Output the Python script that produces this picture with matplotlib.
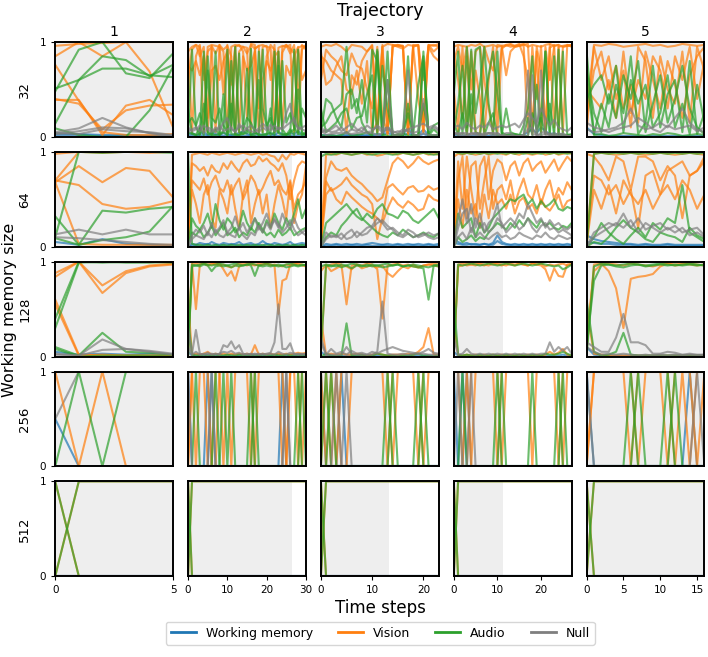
import matplotlib
matplotlib.use("Agg")
import matplotlib.pyplot as plt
from matplotlib.lines import Line2D

# memory sizes (rows) and trajectories (columns)
sizes = [32, 64, 128, 256, 512]
trajectories = ["1", "2", "3", "4", "5"]
steps = [5, 30, 23, 27, 16]          # last time step of each trajectory
shade_end = [5, 26.4, 13.2, 11.2, 16]  # shaded part of each trajectory
xticks = [[0, 5], [0, 10, 20, 30], [0, 10, 20], [0, 10, 20], [0, 5, 10, 15]]

labels = ["Working memory", "Vision", "Audio", "Null"]
keys = ["W", "V", "A", "N"]
colors = ["tab:blue", "tab:orange", "tab:green", "tab:gray"]

# attention values in percent, one list per head
# ---- memory size 32 ----
m32_t1 = dict(
    V=[[96, 98, 99, 100, 100, 100], [85, 100, 85, 100, 69, 10], [76, 38, 5, 2, 2, 3],
       [39, 39, 2, 33, 39, 23], [40, 35, 8, 28, 33, 34]],
    A=[[51, 60, 85, 81, 64, 76], [48, 92, 100, 67, 62, 88], [14, 60, 72, 72, 65, 63],
       [9, 2, 0, 0, 28, 74]],
    N=[[5, 9, 20, 10, 4, 1], [3, 6, 10, 9, 4, 1], [4, 3, 8, 6, 5, 2]],
    W=[[4, 3, 2, 2, 1, 1], [2, 2, 1, 1, 1, 1]],
)
m32_t2 = dict(
    V=[[90, 95, 97, 95, 5, 95, 97, 96, 95, 90, 5, 95, 97, 96, 95, 94, 5, 93, 96, 97, 95, 94, 5, 94, 96, 95, 97, 5, 94, 96, 95],
       [60, 92, 97, 85, 95, 20, 96, 88, 97, 45, 97, 10, 95, 97, 90, 20, 98, 97, 30, 95, 96, 60, 97, 15, 95, 97, 88, 97, 40, 97, 92],
       [75, 70, 80, 65, 85, 5, 70, 75, 60, 80, 90, 55, 95, 5, 85, 70, 75, 90, 5, 60, 80, 70, 85, 90, 10, 75, 65, 85, 95, 60, 70],
       [95, 5, 85, 97, 60, 90, 95, 5, 97, 92, 96, 85, 3, 90, 95, 88, 97, 93, 96, 5, 85, 97, 92, 5, 89, 97, 93, 88, 5, 92, 97]],
    A=[[5, 3, 2, 3, 90, 3, 2, 2, 3, 6, 92, 3, 2, 2, 3, 4, 93, 5, 2, 2, 3, 4, 90, 4, 2, 3, 2, 92, 4, 2, 3],
       [30, 4, 2, 10, 2, 70, 2, 8, 2, 45, 1, 80, 3, 2, 6, 72, 1, 2, 60, 3, 2, 30, 2, 75, 3, 2, 8, 2, 50, 2, 5],
       [15, 20, 12, 25, 8, 85, 20, 15, 30, 12, 5, 35, 3, 88, 8, 20, 15, 5, 90, 30, 12, 20, 8, 5, 80, 15, 25, 10, 3, 30, 20],
       [2, 92, 10, 2, 35, 5, 3, 90, 2, 5, 2, 10, 95, 5, 3, 8, 2, 5, 2, 92, 10, 2, 5, 90, 8, 2, 5, 8, 92, 5, 2]],
    N=[[5, 8, 10, 6, 12, 8, 5, 10, 7, 15, 20, 8, 6, 10, 12, 8, 6, 5, 9, 14, 10, 7, 12, 8, 10, 25, 35, 15, 10, 8, 6],
       [10, 6, 8, 12, 4, 10, 8, 5, 12, 6, 8, 10, 5, 14, 6, 9, 12, 8, 5, 10, 7, 13, 6, 10, 8, 12, 15, 20, 8, 10, 12]],
    W=[[3, 4, 2, 3, 5, 2, 4, 3, 2, 4, 3, 2, 3, 4, 6, 3, 2, 4, 3, 2, 3, 4, 2, 5, 3, 2, 4, 3, 6, 3, 2],
       [1, 2, 1, 1, 2, 1, 1, 2, 1, 1, 2, 1, 1, 2, 1, 1, 2, 1, 1, 2, 1, 1, 2, 1, 1, 2, 1, 1, 2, 1, 1]],
)
m32_t3 = dict(
    V=[[95, 97, 96, 98, 95, 90, 97, 96, 95, 90, 96, 5, 97, 3, 95, 97, 96, 2, 95, 97, 5, 96, 97, 95],
       [60, 92, 85, 80, 70, 65, 88, 75, 72, 50, 30, 95, 20, 5, 96, 97, 95, 5, 97, 96, 15, 97, 90, 95],
       [90, 55, 60, 75, 85, 50, 45, 70, 35, 80, 5, 15, 95, 2, 97, 96, 96, 3, 96, 97, 60, 95, 85, 80],
       [85, 80, 70, 65, 60, 5, 65, 55, 80, 90, 97, 5, 95, 98, 97, 95, 93, 97, 96, 40, 5, 97, 96, 98]],
    A=[[2, 1, 2, 1, 2, 5, 1, 2, 3, 5, 2, 90, 1, 60, 2, 1, 2, 35, 2, 1, 90, 2, 1, 2],
       [30, 5, 10, 15, 25, 30, 8, 20, 22, 45, 65, 3, 75, 30, 2, 1, 2, 25, 1, 2, 80, 1, 8, 3],
       [5, 40, 35, 20, 10, 45, 50, 25, 60, 15, 92, 80, 2, 90, 1, 2, 2, 85, 2, 1, 35, 3, 12, 15],
       [10, 15, 25, 30, 35, 95, 30, 40, 15, 5, 1, 92, 3, 1, 1, 3, 4, 1, 2, 55, 85, 1, 2, 1]],
    N=[[8, 2, 3, 4, 4, 4, 3, 4, 5, 4, 4, 2, 4, 60, 2, 2, 3, 70, 2, 2, 4, 2, 2, 2],
       [10, 5, 8, 12, 6, 10, 14, 8, 6, 12, 8, 10, 5, 8, 4, 6, 5, 8, 10, 12, 14, 10, 12, 8],
       [4, 8, 5, 6, 10, 4, 8, 6, 10, 5, 6, 12, 8, 10, 6, 4, 8, 6, 4, 6, 40, 8, 10, 6]],
    W=[[2, 1, 2, 1, 2, 1, 2, 1, 2, 1, 2, 3, 2, 12, 2, 1, 2, 10, 1, 2, 8, 2, 1, 2],
       [1, 2, 1, 1, 1, 2, 1, 2, 1, 2, 1, 1, 1, 5, 1, 1, 1, 4, 1, 1, 3, 1, 1, 1]],
)
m32_t4 = dict(
    V=[[95, 97, 96, 95, 97, 96, 98, 95, 96, 97, 95, 96, 97, 98, 96, 97, 98, 95, 97, 96, 95, 97, 98, 96, 97, 95, 96, 97],
       [50, 5, 95, 3, 90, 5, 2, 95, 80, 70, 97, 96, 65, 90, 95, 96, 97, 5, 95, 40, 96, 5, 94, 97, 3, 95, 96, 97],
       [90, 60, 20, 85, 5, 70, 40, 3, 60, 95, 5, 93, 97, 95, 96, 98, 85, 60, 3, 95, 70, 3, 97, 10, 95, 96, 97, 95],
       [80, 95, 70, 95, 50, 90, 95, 60, 30, 5, 50, 95, 96, 97, 95, 96, 97, 98, 5, 90, 5, 95, 60, 96, 97, 5, 97, 96]],
    A=[[45, 90, 3, 95, 5, 92, 95, 2, 15, 25, 1, 2, 30, 5, 3, 2, 1, 20, 2, 55, 2, 90, 3, 1, 92, 2, 2, 1],
       [5, 35, 75, 10, 92, 25, 55, 95, 35, 3, 90, 5, 2, 3, 2, 1, 12, 30, 85, 3, 25, 90, 1, 85, 3, 2, 2, 3],
       [15, 2, 25, 3, 45, 5, 2, 35, 65, 90, 45, 3, 2, 2, 3, 2, 1, 1, 25, 8, 20, 3, 35, 2, 1, 90, 2, 2]],
    N=[[4, 3, 1, 1, 4, 2, 2, 2, 4, 4, 1, 1, 4, 4, 1, 1, 1, 70, 2, 3, 1, 4, 2, 1, 4, 2, 1, 1],
       [4, 4, 4, 4, 2, 4, 4, 1, 4, 1, 4, 1, 1, 1, 1, 1, 2, 8, 10, 1, 4, 6, 1, 4, 1, 1, 1, 1],
       [4, 2, 4, 1, 4, 4, 2, 4, 4, 4, 4, 1, 1, 1, 1, 1, 1, 1, 65, 1, 70, 1, 4, 1, 1, 4, 1, 1],
       [10, 12, 8, 15, 10, 8, 12, 10, 15, 8, 10, 12, 10, 12, 14, 10, 18, 25, 20, 15, 30, 20, 12, 18, 10, 8, 6, 10]],
    W=[[2, 2, 1, 2, 1, 2, 1, 2, 1, 2, 1, 1, 1, 1, 1, 1, 2, 5, 8, 4, 10, 6, 3, 4, 2, 1, 1, 1]],
)
m32_t5 = dict(
    V=[[5, 97, 96, 98, 97, 95, 96, 97, 98, 96, 97, 95, 96, 98, 97, 96, 97],
       [30, 95, 60, 85, 40, 70, 10, 95, 80, 20, 85, 50, 35, 90, 15, 95, 70],
       [20, 70, 90, 50, 75, 30, 55, 15, 90, 60, 30, 80, 55, 20, 65, 85, 95],
       [50, 40, 30, 60, 20, 90, 25, 60, 40, 85, 70, 30, 85, 60, 95, 40, 80]],
    A=[[90, 2, 3, 1, 2, 4, 3, 2, 1, 3, 2, 4, 3, 1, 2, 3, 2],
       [60, 3, 35, 10, 55, 25, 85, 3, 15, 75, 10, 45, 60, 5, 80, 3, 25],
       [70, 25, 5, 45, 20, 65, 40, 80, 5, 35, 65, 15, 40, 75, 30, 10, 3],
       [40, 55, 65, 35, 75, 5, 60, 35, 55, 10, 25, 65, 10, 35, 3, 55, 15]],
    N=[[8, 5, 6, 8, 10, 15, 30, 12, 8, 10, 15, 10, 20, 30, 15, 8, 5],
       [15, 10, 8, 5, 8, 10, 12, 20, 15, 8, 5, 12, 8, 10, 12, 6, 10]],
    W=[[10, 3, 2, 1, 1, 1, 1, 1, 1, 1, 1, 1, 1, 1, 1, 1, 1]],
)

# ---- memory size 64 ----
m64_t1 = dict(
    V=[[98, 100, 100, 100, 100, 100], [70, 100, 99, 100, 99, 100], [68, 85, 68, 83, 80, 52],
       [70, 65, 45, 40, 42, 48], [68, 3, 2, 2, 2, 2]],
    A=[[10, 100, 99, 100, 100, 99], [32, 2, 38, 36, 40, 42], [9, 2, 7, 10, 16, 43]],
    N=[[13, 18, 13, 18, 13, 13], [10, 9, 7, 5, 3, 2]],
    W=[[5, 2, 8, 3, 2, 1]],
)
m64_t2 = dict(
    V=[[3, 97, 98, 99, 98, 97, 99, 98, 97, 98, 99, 98, 97, 98, 99, 98, 97, 98, 99, 97, 98, 96, 95, 90, 97, 92, 98, 97, 99, 98, 97],
       [2, 88, 85, 80, 84, 75, 86, 80, 78, 88, 82, 90, 84, 79, 88, 92, 85, 87, 95, 90, 93, 88, 85, 80, 88, 75, 50, 70, 85, 90, 88],
       [5, 70, 65, 60, 72, 55, 68, 75, 62, 58, 70, 55, 65, 72, 50, 60, 75, 68, 55, 62, 72, 80, 65, 70, 60, 55, 68, 40, 55, 60, 70],
       [2, 60, 45, 25, 55, 65, 30, 20, 60, 50, 35, 65, 40, 20, 55, 70, 25, 45, 60, 35, 55, 20, 45, 65, 50, 30, 70, 25, 45, 55, 85]],
    A=[[98, 3, 2, 2, 1, 2, 1, 2, 1, 2, 1, 2, 1, 2, 1, 2, 1, 2, 1, 2, 1, 2, 1, 2, 1, 2, 1, 2, 1, 2, 1],
       [0, 30, 22, 18, 25, 35, 20, 45, 28, 18, 30, 25, 15, 20, 38, 25, 18, 30, 22, 15, 28, 20, 35, 25, 18, 30, 22, 35, 50, 30, 40],
       [0, 15, 12, 18, 10, 15, 22, 12, 18, 25, 12, 15, 20, 10, 15, 12, 20, 15, 25, 18, 12, 15, 10, 18, 12, 15, 20, 12, 15, 18, 20]],
    N=[[0, 12, 18, 15, 22, 12, 25, 15, 20, 28, 15, 20, 32, 18, 25, 15, 22, 30, 18, 25, 35, 22, 28, 20, 35, 25, 18, 30, 20, 15, 18],
       [0, 8, 12, 10, 8, 15, 10, 18, 12, 10, 15, 12, 10, 20, 12, 8, 15, 12, 22, 15, 25, 18, 30, 22, 15, 20, 28, 18, 12, 15, 12]],
    W=[[0, 3, 2, 4, 3, 2, 5, 3, 2, 4, 3, 2, 3, 5, 2, 3, 4, 2, 3, 6, 3, 2, 4, 3, 2, 3, 5, 2, 3, 4, 3],
       [0, 1, 2, 1, 2, 3, 1, 2, 1, 2, 1, 3, 2, 1, 2, 1, 2, 1, 2, 1, 3, 2, 1, 2, 1, 2, 1, 2, 1, 2, 1]],
)
m64_t3 = dict(
    V=[[5, 97, 98, 97, 99, 98, 97, 98, 99, 97, 98, 96, 97, 99, 98, 97, 99, 98, 97, 98, 99, 97, 98, 97],
       [5, 73, 90, 82, 80, 83, 75, 70, 66, 60, 55, 48, 52, 70, 88, 94, 90, 83, 88, 95, 90, 87, 90, 92],
       [3, 69, 59, 62, 66, 73, 65, 60, 55, 52, 45, 8, 30, 62, 66, 60, 55, 62, 64, 58, 59, 64, 60, 62],
       [2, 55, 62, 50, 45, 58, 52, 47, 42, 38, 35, 30, 25, 40, 52, 45, 41, 48, 44, 38, 40, 55, 50, 48]],
    A=[[95, 98, 97, 98, 99, 98, 97, 98, 99, 98, 97, 98, 99, 98, 97, 98, 99, 98, 97, 98, 99, 98, 97, 98],
       [0, 25, 30, 35, 40, 45, 38, 32, 28, 35, 30, 40, 45, 35, 33, 30, 38, 35, 28, 25, 30, 35, 40, 30],
       [0, 10, 15, 12, 22, 28, 35, 40, 30, 25, 20, 15, 12, 10, 15, 12, 18, 14, 10, 12, 15, 12, 10, 14]],
    N=[[0, 15, 10, 12, 8, 14, 18, 10, 15, 20, 22, 30, 25, 18, 20, 15, 12, 18, 15, 10, 12, 15, 12, 14],
       [0, 8, 12, 10, 14, 8, 10, 16, 12, 14, 20, 25, 28, 22, 18, 12, 10, 14, 10, 12, 14, 10, 8, 10]],
    W=[[0, 3, 2, 3, 2, 3, 2, 3, 2, 3, 4, 3, 2, 3, 2, 3, 2, 3, 2, 3, 2, 3, 2, 3],
       [0, 1, 1, 2, 1, 1, 2, 1, 1, 2, 1, 1, 2, 1, 1, 2, 1, 1, 2, 1, 1, 2, 1, 1]],
)
m64_t4 = dict(
    V=[[95, 98, 97, 99, 98, 97, 98, 99, 97, 98, 99, 98, 97, 99, 98, 97, 99, 98, 97, 98, 99, 97, 98, 99, 97, 98, 99, 98],
       [5, 90, 40, 95, 60, 30, 85, 95, 50, 80, 92, 88, 70, 85, 90, 75, 88, 93, 80, 86, 90, 78, 85, 92, 80, 88, 95, 90],
       [3, 70, 95, 30, 85, 90, 40, 70, 95, 40, 60, 65, 50, 70, 45, 60, 72, 55, 50, 65, 45, 60, 70, 50, 62, 55, 68, 60],
       [2, 50, 20, 60, 35, 45, 20, 55, 30, 60, 45, 50, 40, 55, 35, 48, 52, 40, 45, 35, 50, 42, 38, 45, 55, 40, 48, 50]],
    A=[[100, 99, 98, 99, 98, 99, 98, 99, 98, 99, 98, 99, 98, 99, 98, 99, 98, 99, 98, 99, 98, 99, 98, 99, 98, 99, 98, 99],
       [0, 35, 20, 25, 30, 10, 25, 15, 20, 30, 35, 40, 45, 50, 48, 52, 55, 45, 50, 40, 48, 42, 45, 50, 40, 38, 42, 40],
       [0, 10, 5, 8, 12, 6, 10, 8, 15, 20, 25, 22, 18, 25, 20, 28, 22, 30, 25, 20, 28, 22, 25, 20, 18, 22, 20, 25]],
    N=[[0, 30, 50, 25, 45, 20, 35, 15, 25, 30, 45, 20, 25, 30, 25, 35, 30, 45, 35, 25, 30, 20, 28, 22, 25, 20, 18, 22],
       [0, 20, 35, 40, 15, 30, 20, 25, 15, 20, 30, 25, 15, 20, 25, 18, 22, 30, 20, 15, 22, 25, 18, 20, 15, 18, 15, 12],
       [0, 10, 15, 8, 20, 10, 15, 10, 8, 12, 15, 10, 12, 8, 10, 15, 12, 10, 8, 12, 10, 15, 10, 8, 12, 10, 8, 10]],
    W=[[8, 5, 3, 4, 2, 3, 2, 3, 2, 4, 12, 5, 3, 2, 3, 2, 3, 2, 3, 2, 3, 2, 3, 2, 3, 2, 3, 2],
       [4, 3, 2, 2, 3, 2, 2, 3, 2, 2, 6, 3, 2, 2, 1, 2, 1, 2, 1, 2, 1, 2, 1, 2, 1, 2, 1, 2]],
)
m64_t5 = dict(
    V=[[2, 98, 99, 98, 97, 98, 99, 98, 97, 98, 99, 98, 97, 98, 99, 98, 97],
       [98, 95, 85, 70, 95, 90, 60, 95, 95, 90, 70, 85, 75, 30, 75, 80, 90],
       [5, 75, 70, 55, 65, 45, 60, 20, 75, 80, 55, 80, 85, 90, 75, 80, 95],
       [3, 60, 40, 65, 35, 70, 55, 45, 60, 40, 55, 65, 50, 70, 60, 40, 55]],
    A=[[0, 98, 99, 98, 99, 98, 99, 98, 99, 98, 99, 98, 99, 98, 99, 98, 99],
       [0, 10, 25, 15, 8, 3, 12, 20, 10, 25, 18, 30, 25, 65, 15, 10, 5],
       [0, 5, 3, 10, 20, 28, 20, 15, 8, 5, 15, 12, 10, 5, 20, 12, 8]],
    N=[[0, 15, 20, 25, 22, 35, 20, 30, 18, 22, 25, 18, 22, 15, 18, 20, 12],
       [0, 10, 15, 20, 25, 20, 28, 15, 25, 20, 15, 20, 15, 20, 12, 15, 10]],
    W=[[12, 8, 6, 5, 4, 3, 3, 2, 3, 2, 2, 3, 2, 2, 2, 2, 2],
       [5, 4, 3, 3, 2, 2, 2, 1, 2, 1, 1, 2, 1, 1, 1, 1, 1]],
)

# ---- memory size 128 ----
m128_t1 = dict(
    V=[[88, 100, 75, 90, 96, 98], [84, 100, 67, 88, 95, 97], [60, 2, 1, 1, 1, 1], [55, 1, 2, 1, 1, 1]],
    A=[[40, 100, 99, 100, 100, 99], [30, 99, 100, 99, 99, 100], [10, 1, 25, 5, 4, 2], [8, 0, 1, 1, 1, 0]],
    N=[[2, 1, 18, 8, 6, 3], [3, 1, 7, 8, 5, 2]],
    W=[[5, 2, 3, 2, 3, 1]],
)
m128_t2 = dict(
    V=[[0, 97, 98, 97, 98, 97, 98, 97, 98, 92, 85, 90, 80, 95, 97, 98, 97, 96, 98, 97, 98, 97, 96, 45, 80, 82, 97, 98, 97, 96, 95],
       [10, 98, 50, 97, 98, 96, 97, 98, 96, 97, 95, 94, 96, 98, 97, 96, 98, 97, 96, 97, 98, 96, 97, 96, 95, 97, 96, 97, 98, 97, 96],
       [60, 2, 3, 2, 3, 5, 2, 3, 2, 3, 2, 3, 2, 3, 2, 3, 2, 12, 2, 3, 2, 3, 2, 3, 2, 3, 2, 3, 4, 3, 4]],
    A=[[0, 95, 96, 95, 97, 96, 90, 95, 96, 95, 96, 94, 96, 95, 96, 97, 96, 85, 96, 95, 96, 95, 96, 95, 96, 94, 95, 96, 95, 96, 97],
       [5, 97, 96, 97, 98, 97, 96, 97, 98, 97, 96, 97, 98, 97, 96, 97, 98, 97, 96, 97, 98, 97, 96, 97, 96, 97, 98, 97, 96, 97, 96],
       [40, 2, 1, 1, 2, 1, 1, 2, 1, 1, 2, 1, 1, 2, 1, 1, 2, 1, 1, 2, 1, 1, 2, 1, 1, 2, 1, 1, 2, 1, 1]],
    N=[[30, 3, 28, 3, 2, 4, 2, 3, 2, 12, 10, 16, 8, 12, 3, 2, 3, 2, 3, 2, 3, 4, 15, 55, 8, 8, 14, 2, 3, 2, 3],
       [10, 2, 5, 2, 3, 2, 3, 2, 3, 5, 4, 6, 3, 4, 2, 3, 2, 3, 2, 3, 2, 3, 2, 5, 3, 2, 4, 3, 2, 3, 2]],
    W=[[5, 1, 2, 1, 1, 2, 1, 1, 2, 1, 1, 2, 1, 1, 2, 1, 1, 2, 1, 1, 2, 1, 1, 2, 1, 1, 2, 1, 1, 2, 1]],
)
m128_t3 = dict(
    V=[[5, 95, 97, 98, 97, 55, 96, 97, 96, 98, 97, 92, 40, 96, 97, 98, 96, 97, 95, 94, 96, 97, 98, 97],
       [90, 97, 90, 93, 96, 95, 92, 97, 93, 95, 96, 94, 96, 88, 84, 90, 95, 93, 97, 94, 96, 97, 96, 95],
       [40, 2, 3, 2, 3, 2, 2, 3, 2, 1, 2, 3, 2, 1, 2, 2, 2, 3, 2, 5, 10, 30, 2, 2]],
    A=[[0, 3, 1, 0, 1, 35, 1, 1, 2, 0, 1, 3, 2, 1, 1, 0, 1, 1, 2, 3, 1, 1, 0, 1],
       [5, 96, 95, 97, 94, 96, 93, 96, 95, 97, 95, 96, 94, 95, 96, 97, 95, 96, 95, 94, 93, 60, 96, 95],
       [95, 97, 96, 95, 97, 96, 98, 97, 96, 95, 97, 96, 97, 98, 96, 97, 95, 96, 97, 96, 95, 94, 96, 97]],
    N=[[20, 2, 2, 2, 2, 10, 3, 2, 2, 2, 2, 5, 58, 3, 2, 2, 3, 2, 3, 3, 3, 2, 2, 2],
       [15, 2, 8, 3, 5, 2, 6, 3, 4, 2, 5, 3, 6, 8, 10, 8, 6, 5, 4, 3, 5, 8, 4, 3]],
    W=[[5, 1, 1, 1, 1, 1, 1, 1, 1, 1, 1, 1, 1, 1, 1, 1, 1, 1, 1, 1, 1, 1, 1, 1]],
)
m128_t4 = dict(
    V=[[5, 97, 98, 96, 97, 98, 97, 96, 98, 97, 98, 97, 96, 98, 97, 98, 97, 96, 98, 97, 96, 92, 80, 93, 85, 84, 97, 98],
       [3, 95, 96, 98, 97, 96, 98, 97, 96, 98, 97, 96, 98, 97, 96, 98, 97, 96, 98, 97, 98, 95, 97, 96, 97, 98, 96, 97],
       [40, 2, 1, 2, 1, 2, 1, 2, 1, 2, 1, 2, 1, 2, 1, 2, 1, 2, 1, 2, 1, 2, 5, 2, 4, 8, 2, 1]],
    A=[[0, 97, 96, 97, 98, 97, 96, 97, 98, 97, 96, 97, 98, 97, 96, 97, 98, 97, 96, 97, 98, 97, 96, 95, 96, 92, 94, 97],
       [60, 2, 1, 2, 1, 1, 2, 1, 1, 2, 1, 1, 2, 1, 1, 2, 1, 1, 2, 1, 1, 3, 2, 2, 3, 5, 3, 1]],
    N=[[20, 2, 3, 8, 3, 2, 3, 2, 3, 2, 3, 2, 3, 2, 3, 2, 3, 2, 3, 2, 3, 3, 15, 5, 10, 6, 10, 3]],
    W=[[5, 1, 1, 1, 1, 1, 1, 1, 1, 1, 1, 1, 1, 1, 1, 1, 1, 1, 1, 1, 1, 1, 1, 1, 1, 2, 1, 1]],
)
m128_t5 = dict(
    V=[[5, 97, 98, 90, 72, 30, 82, 84, 85, 87, 95, 98, 97, 98, 97, 96, 97],
       [20, 90, 97, 98, 97, 96, 98, 97, 96, 95, 97, 98, 96, 97, 98, 97, 96],
       [50, 3, 2, 1, 1, 1, 1, 1, 1, 1, 1, 1, 1, 1, 1, 1, 1]],
    A=[[0, 95, 98, 97, 96, 97, 98, 97, 96, 97, 98, 97, 96, 97, 98, 97, 96],
       [10, 80, 96, 97, 95, 94, 96, 97, 95, 96, 97, 96, 97, 96, 97, 96, 97],
       [60, 5, 1, 2, 5, 25, 2, 1, 1, 1, 1, 1, 1, 1, 1, 1, 1]],
    N=[[15, 10, 5, 5, 20, 45, 15, 15, 12, 3, 3, 5, 4, 2, 3, 2, 2],
       [10, 5, 2, 3, 2, 3, 2, 1, 2, 1, 2, 1, 2, 1, 2, 1, 2]],
    W=[[10, 2, 1, 1, 1, 1, 1, 1, 1, 1, 1, 1, 1, 1, 1, 1, 1]],
)

# ---- memory size 256: hard attention, attended modality per head and step ----
m256_t1 = dict(
    V=[[100, 100, 100, 100, 100, 100], [100, 0, 100, 0, 0, 0]],
    A=[[0, 100, 0, 100, 100, 100]],
    N=[[50, 100, 100, 100, 100, 100]],
    W=[[50, 0, 0, 0, 0, 0]],
)
m256_t2 = ["VVVVVVVVVV" "VVVVVVVVVV" "VVVVVVVVVV" "V",
           "NVAVVWNVVA" "VAVVVVAVVV" "VVVVWNVVAV" "V",
           "WVVVVVWAVV" "VVVVVVVAVV" "VVVVVNVVVA" "V"]
m256_t3 = ["VVVVVVVVVV" "VVVVVVVVVV" "VVVV",
           "WVAVWNVVVV" "VVVAVVVVVA" "VVVV",
           "VAVNVVVVVV" "VVVVAVVVVV" "AVVV"]
m256_t4 = ["VVVVVVVVVV" "VVVVVVVVVV" "VVVVVVVV",
           "WNAWVVVVVV" "AVVVVVVVAV" "VVVVAVVV",
           "VVWVNVVVVV" "VAVVVVVVVV" "VVVVVAVV"]
m256_t5 = ["VVVVVVVVVV" "VVVVVVV",
           "WVVVVVVAVV" "VVAVWVV",
           "NVVVVVAVVV" "VAVVVNV"]

# ---- memory size 512 ----
m512_t1 = ["VAAAAA", "AVVVVV"]
m512_t2 = ["VAAAAAAAAA" "AAAAAAAAAA" "AAAAAAAAAA" "A",
           "AVVVVVVVVV" "VVVVVVVVVV" "VVVVVVVVVV" "V"]
m512_t3 = ["VAAAAAAAAA" "AAAAAAAAAA" "AAAA",
           "AVVVVVVVVV" "VVVVVVVVVV" "VVVV"]
m512_t4 = ["VAAAAAAAAA" "AAAAAAAAAA" "AAAAAAAA",
           "AVVVVVVVVV" "VVVVVVVVVV" "VVVVVVVV"]
m512_t5 = ["VAAAAAAAAA" "AAAAAAA",
           "AVVVVVVVVV" "VVVVVVV"]


def from_heads(heads):
    # one-hot lines (percent) from the attended modality of each head
    out = {k: [] for k in keys}
    for h in heads:
        for k in keys:
            out[k].append([100 if ch == k else 0 for ch in h])
    return out


panels = [
    [m32_t1, m32_t2, m32_t3, m32_t4, m32_t5],
    [m64_t1, m64_t2, m64_t3, m64_t4, m64_t5],
    [m128_t1, m128_t2, m128_t3, m128_t4, m128_t5],
    [m256_t1] + [from_heads(h) for h in (m256_t2, m256_t3, m256_t4, m256_t5)],
    [from_heads(h) for h in (m512_t1, m512_t2, m512_t3, m512_t4, m512_t5)],
]

fig, axes = plt.subplots(5, 5, figsize=(7.08, 6.57), dpi=100)
fig.subplots_adjust(left=0.078, right=0.995, top=0.936, bottom=0.123,
                    wspace=0.127, hspace=0.158)

for r in range(5):
    for c in range(5):
        ax = axes[r][c]
        ax.axvspan(0, shade_end[c], color="#eeeeee", lw=0, zorder=0)
        data = panels[r][c]
        # top line of the 256 / trajectory 1 panel is orange, keep null under vision there
        order = ["W", "N", "V", "A"] if (r, c) == (3, 0) else keys
        for k in order:
            col = colors[keys.index(k)]
            for line in data[k]:
                ax.plot(range(len(line)), [v / 100 for v in line],
                        color=col, lw=1.5, alpha=0.7)
        ax.set_xlim(0, steps[c])
        ax.set_ylim(0, 1)
        for sp in ax.spines.values():
            sp.set_linewidth(1.4)
            sp.set_color("black")
        ax.tick_params(labelsize=7.5, length=3)
        if c == 0:
            ax.set_yticks([0, 1])
            ax.set_ylabel(str(sizes[r]), fontsize=9.5, labelpad=6)
        else:
            ax.set_yticks([])
        if r == 4:
            ax.set_xticks(xticks[c])
        else:
            ax.set_xticks([])
        if r == 0:
            ax.set_title(trajectories[c], fontsize=10, pad=4)

fig.text(0.537, 0.984, "Trajectory", ha="center", va="center", fontsize=12.5)
fig.text(0.014, 0.528, "Working memory size", rotation=90, ha="center", va="center", fontsize=11.5)
fig.text(0.537, 0.075, "Time steps", ha="center", va="center", fontsize=12)

handles = [Line2D([], [], color=col, lw=2) for col in colors]
fig.legend(handles, labels, loc="center", bbox_to_anchor=(0.537, 0.036), ncol=4,
           fontsize=9, handlelength=2.0, columnspacing=2.0)

fig.savefig("out.png", dpi=100)
